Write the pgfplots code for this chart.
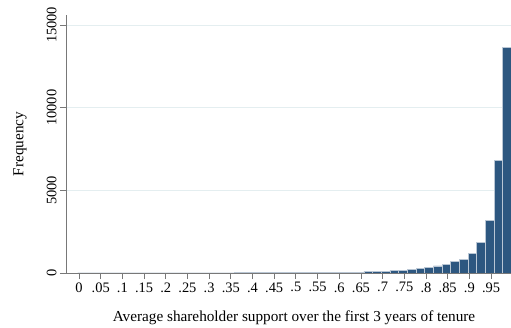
\documentclass[border=0pt]{standalone}
\usepackage{pgfplots}
\pgfplotsset{compat=1.18}
\usepackage{fontspec}
\setmainfont{Liberation Serif}
\definecolor{barblue}{RGB}{45,87,128}
\definecolor{barline}{RGB}{185,198,212}
\definecolor{gridc}{RGB}{228,238,240}
\definecolor{axc}{RGB}{120,120,120}
\begin{document}
\begin{tikzpicture}
\begin{axis}[
  scale only axis,
  width=445bp, height=258bp,
  xmin=-0.030, xmax=0.996,
  ymin=0, ymax=15600,
  scaled y ticks=false, scaled x ticks=false,
  axis x line*=bottom, axis y line*=left,
  axis line style={-, draw=axc, line width=0.9pt},
  tick align=outside,
  major tick length=6bp,
  tick style={draw=axc, line width=0.8pt},
  xtick={0,0.05,0.1,0.15,0.2,0.25,0.3,0.35,0.4,0.45,0.5,0.55,0.6,0.65,0.7,0.75,0.8,0.85,0.9,0.95},
  xticklabels={0,.05,.1,.15,.2,.25,.3,.35,.4,.45,.5,.55,.6,.65,.7,.75,.8,.85,.9,.95},
  ytick={0,5000,10000,15000},
  yticklabels={0,5000,10000,15000},
  /pgf/number format/assume math mode=true,
  tick label style={font=\fontsize{14.5}{16}\selectfont},
  yticklabel style={rotate=90, anchor=south},
  ymajorgrids,
  grid style={draw=gridc, line width=0.8pt},
  xlabel={Average shareholder support over the first 3 years of tenure},
  ylabel={Frequency},
  every axis x label/.style={at={(axis description cs:0.5124,-0.1744)}, anchor=center, font=\fontsize{15.3}{17}\selectfont},
  every axis y label/.style={at={(axis description cs:-0.1034,0.5)}, rotate=90, anchor=center, font=\fontsize{15.3}{17}\selectfont},
]
\addplot[ybar interval, fill=barblue, draw=barline, line width=0.6pt] table {
x y
-0.003 10
0.017 2
0.037 3
0.057 3
0.077 4
0.097 4
0.117 5
0.137 5
0.157 6
0.177 6
0.197 7
0.217 7
0.237 8
0.257 9
0.277 9
0.297 10
0.317 11
0.337 12
0.357 13
0.377 14
0.397 15
0.417 16
0.437 18
0.457 19
0.477 21
0.497 25
0.517 26
0.537 29
0.557 32
0.577 36
0.597 42
0.617 48
0.637 60
0.657 85
0.677 100
0.697 120
0.717 150
0.737 180
0.757 220
0.777 280
0.797 330
0.817 430
0.837 530
0.857 680
0.877 830
0.897 1190
0.917 1830
0.937 3170
0.957 6820
0.977 13650
0.997 13650
};
\end{axis}
\pgfresetboundingbox
\path[use as bounding box] ([shift={(-66bp,-55bp)}]current axis.south west) rectangle ([shift={(0bp,15bp)}]current axis.north east);
\end{tikzpicture}
\end{document}
